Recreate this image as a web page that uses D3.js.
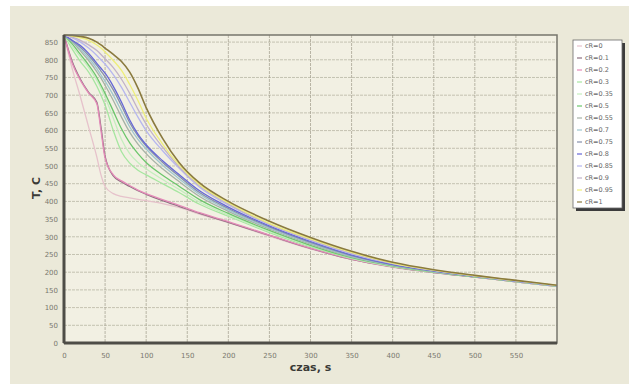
<!DOCTYPE html>
<html>
<head>
<meta charset="utf-8">
<script src="https://cdn.jsdelivr.net/npm/d3@7"></script>
<style>
  body { margin: 0; background: #ffffff; }
  svg { display: block; font-family: "DejaVu Sans", sans-serif; }
</style>
</head>
<body>
<svg id="chart" width="629" height="389"></svg>
<script>
// time, s
const times = [0, 10, 20, 30, 40, 45, 50, 60, 70, 80, 90, 100, 120, 140, 165, 200, 250, 300, 350, 400, 450, 500, 550, 600];

const seriesNames = ['cR=0', 'cR=0.1', 'cR=0.2', 'cR=0.3', 'cR=0.35', 'cR=0.5', 'cR=0.55',
  'cR=0.7', 'cR=0.75', 'cR=0.8', 'cR=0.85', 'cR=0.9', 'cR=0.95', 'cR=1'];

// temperature, C
const tCR0   = [870, 775, 695, 610, 525, 475, 442, 422, 414, 410, 406, 402, 394, 383, 364, 340, 302, 266, 236, 214, 199, 186, 173, 160];
const tCR01  = [870, 795, 745, 708, 680, 610, 528, 472, 455, 442, 430, 420, 402, 386, 366, 341, 304, 267, 236, 215, 199, 186, 173, 160];
const tCR02  = [870, 790, 742, 706, 676, 600, 522, 475, 458, 445, 432, 422, 405, 389, 368, 343, 305, 268, 237, 215, 200, 186, 173, 160];
const tCR03  = [870, 830, 795, 765, 725, 700, 672, 600, 540, 508, 488, 475, 450, 425, 392, 358, 312, 272, 239, 216, 200, 187, 173, 160];
const tCR035 = [870, 838, 808, 778, 742, 720, 695, 635, 575, 535, 510, 492, 462, 434, 398, 362, 315, 274, 240, 217, 201, 187, 174, 161];
const tCR05  = [870, 845, 815, 785, 750, 728, 705, 655, 605, 565, 535, 510, 474, 443, 405, 366, 318, 276, 241, 218, 201, 187, 174, 161];
const tCR055 = [870, 850, 825, 798, 766, 748, 728, 685, 638, 595, 562, 535, 492, 456, 414, 372, 322, 279, 243, 219, 202, 188, 174, 161];
const tCR07  = [870, 852, 830, 805, 775, 757, 740, 700, 655, 610, 575, 548, 502, 464, 420, 376, 325, 282, 245, 220, 202, 188, 174, 161];
const tCR075 = [870, 854, 835, 812, 784, 768, 752, 715, 670, 622, 585, 556, 510, 471, 425, 380, 328, 284, 247, 221, 203, 188, 175, 162];
const tCR08  = [870, 855, 840, 818, 790, 776, 762, 725, 680, 630, 590, 560, 515, 476, 430, 384, 331, 287, 249, 222, 204, 189, 175, 162];
const tCR085 = [870, 862, 850, 833, 812, 800, 788, 758, 722, 680, 638, 600, 543, 494, 440, 390, 334, 290, 252, 224, 205, 189, 175, 162];
const tCR09  = [870, 864, 855, 842, 826, 815, 803, 778, 745, 705, 660, 618, 553, 498, 444, 393, 336, 292, 254, 225, 205, 190, 176, 162];
const tCR095 = [870, 867, 862, 855, 842, 833, 822, 798, 770, 730, 685, 635, 562, 503, 447, 396, 338, 294, 256, 226, 206, 190, 176, 163];
const tCR1   = [870, 869, 866, 861, 850, 842, 833, 815, 795, 765, 720, 665, 578, 510, 452, 400, 344, 298, 259, 228, 207, 191, 177, 163];

const seriesValues = [tCR0, tCR01, tCR02, tCR03, tCR035, tCR05, tCR055, tCR07, tCR075, tCR08, tCR085, tCR09, tCR095, tCR1];
const colors = ['#e6c2cb', '#8e6f80', '#e48ab8', '#a6e6a0', '#c4eebe', '#6cc66c', '#a6b2a6',
  '#9ec6cf', '#8590aa', '#6767d6', '#b6b6ee', '#c2b2c8', '#eeee7a', '#8a7a3e'];

const xTicks = [0, 50, 100, 150, 200, 250, 300, 350, 400, 450, 500, 550];
const yTicks = [0, 50, 100, 150, 200, 250, 300, 350, 400, 450, 500, 550, 600, 650, 700, 750, 800, 850];

const svg = d3.select('#chart');
const margin = { top: 35, right: 72, bottom: 46, left: 64 };
const width = 629, height = 389;
const plotW = width - margin.left - margin.right;
const plotH = height - margin.top - margin.bottom;

// beige panel
svg.append('rect')
  .attr('x', 10).attr('y', 6)
  .attr('width', 619).attr('height', 378)
  .attr('fill', '#ebe9d9');

const x = d3.scaleLinear().domain([0, 600]).range([0, plotW]);
const y = d3.scaleLinear().domain([0, 870]).range([plotH, 0]);

const g = svg.append('g').attr('transform', `translate(${margin.left},${margin.top})`);

g.append('rect')
  .attr('width', plotW).attr('height', plotH)
  .attr('fill', '#f2f0e3');

// grid
g.append('g')
  .selectAll('line')
  .data(yTicks.slice(1))
  .join('line')
  .attr('x1', 0).attr('x2', plotW)
  .attr('y1', d => y(d)).attr('y2', d => y(d))
  .attr('stroke', '#b9b6a4')
  .attr('stroke-width', 0.8)
  .attr('stroke-dasharray', '3,1');

g.append('g')
  .selectAll('line')
  .data(xTicks.slice(1))
  .join('line')
  .attr('x1', d => x(d)).attr('x2', d => x(d))
  .attr('y1', 0).attr('y2', plotH)
  .attr('stroke', '#a9a695')
  .attr('stroke-width', 0.8)
  .attr('stroke-dasharray', '3,1');

// curves
const line = d3.line()
  .x((d, i) => x(times[i]))
  .y(d => y(d))
  .curve(d3.curveMonotoneX);

seriesValues.forEach((vals, i) => {
  g.append('path')
    .datum(vals)
    .attr('fill', 'none')
    .attr('stroke', colors[i])
    .attr('stroke-width', i === 13 ? 1.6 : 1.3)
    .attr('d', line);
});

// frame
g.append('rect')
  .attr('width', plotW).attr('height', plotH)
  .attr('fill', 'none')
  .attr('stroke', '#77766c')
  .attr('stroke-width', 1.5);
g.append('line')
  .attr('x1', 0).attr('x2', 0).attr('y1', 0).attr('y2', plotH)
  .attr('stroke', '#4e4d47').attr('stroke-width', 3);
g.append('line')
  .attr('x1', 0).attr('x2', plotW).attr('y1', plotH).attr('y2', plotH)
  .attr('stroke', '#4e4d47').attr('stroke-width', 3);

// axes
const xAxis = g.append('g')
  .attr('transform', `translate(0,${plotH})`)
  .call(d3.axisBottom(x).tickValues(xTicks).tickSize(0).tickPadding(10));
const yAxis = g.append('g')
  .call(d3.axisLeft(y).tickValues(yTicks).tickSize(0).tickPadding(6));
[xAxis, yAxis].forEach(a => {
  a.select('.domain').remove();
  a.selectAll('text')
    .attr('fill', '#7a786e')
    .attr('font-size', '7px')
    .attr('font-family', '"DejaVu Sans", sans-serif');
});

// axis titles
svg.append('text')
  .attr('x', margin.left + plotW / 2)
  .attr('y', 371)
  .attr('text-anchor', 'middle')
  .attr('font-size', '11px')
  .attr('font-weight', 'bold')
  .attr('fill', '#3a3a36')
  .text('czas, s');

svg.append('text')
  .attr('transform', 'translate(40,188) rotate(-90)')
  .attr('text-anchor', 'middle')
  .attr('font-size', '11px')
  .attr('font-weight', 'bold')
  .attr('fill', '#3a3a36')
  .text('T, C');

// legend
const lx = 573, ly = 40, lw = 49, lh = 168;
svg.append('rect')
  .attr('x', lx + 3).attr('y', ly + 3)
  .attr('width', lw).attr('height', lh)
  .attr('fill', '#3c3c3c');
svg.append('rect')
  .attr('x', lx).attr('y', ly)
  .attr('width', lw).attr('height', lh)
  .attr('fill', '#ffffff')
  .attr('stroke', '#6a6a6a')
  .attr('stroke-width', 0.8);

const items = svg.append('g')
  .selectAll('g')
  .data(seriesNames)
  .join('g')
  .attr('transform', (d, i) => `translate(${lx + 4},${ly + 6 + i * 12})`);

items.append('line')
  .attr('x1', 0).attr('x2', 5)
  .attr('y1', 0).attr('y2', 0)
  .attr('stroke', (d, i) => colors[i])
  .attr('stroke-width', 1.2);

items.append('text')
  .attr('x', 8).attr('y', 0)
  .attr('dy', '0.35em')
  .attr('font-size', '6.5px')
  .attr('fill', '#666')
  .text(d => d);
</script>
</body>
</html>
